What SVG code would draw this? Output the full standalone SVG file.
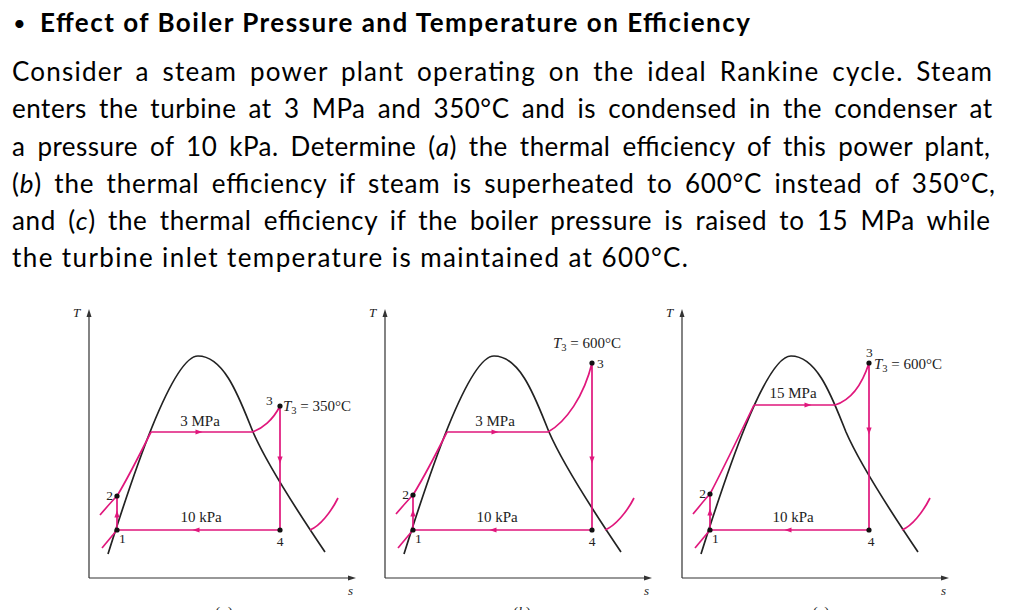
<svg xmlns="http://www.w3.org/2000/svg" xmlns:xlink="http://www.w3.org/1999/xlink" width="1024" height="610" viewBox="0 0 1024 610">
<style>
  .title{font-family:Lato,"Open Sans",sans-serif;font-weight:bold;font-size:26px;fill:#000}
  .bullet{font-family:Lato,"Open Sans",sans-serif;font-size:22px;fill:#000}
  .para{font-family:Lato,"Open Sans",sans-serif;font-size:26px;fill:#000;word-spacing:5px}
  .lbl{font-family:"Liberation Serif",serif;font-size:15px;fill:#222}
  .num{font-family:"Liberation Serif",serif;font-size:13.5px;fill:#222}
  .ax{font-family:"Liberation Serif",serif;font-size:13px;font-style:italic;fill:#222}
  .axis{stroke:#333;stroke-width:1.2;fill:none}
  .dome{stroke:#222;stroke-width:1.7;fill:none}
  .cyc{stroke:#e0177c;stroke-width:1.7;fill:none}
  .arr{fill:#e0177c}
  .dot{fill:#111}
  .axh{fill:#333}
</style>
<defs>
  <path id="dome" d="M108,554 C132,478 172,356 198,356 C225,356 240,400 253,432 C266,462 300,515 325,552"/>
  <path id="ar" d="M3.5,0 L-3.5,-2.6 L-3.5,2.6 Z"/>
  <g id="axes">
    <path class="axis" d="M89,578 V314 M89,578 H351"/>
    <path class="axh" d="M89,309 L86.5,317 L91.5,317 Z"/>
    <path class="axh" d="M356,578 L348,575.5 L348,580.5 Z"/>
    <text class="ax" x="73" y="317">T</text>
    <text class="ax" x="348" y="595">s</text>
  </g>
</defs>

<g id="heading">
  <text class="bullet" x="13" y="31">•</text>
  <text class="title" x="40" y="32" textLength="710" lengthAdjust="spacing">Effect of Boiler Pressure and Temperature on Efficiency</text>
</g>

<g id="problem">
  <text class="para" x="12" y="81" textLength="980" lengthAdjust="spacing">Consider a steam power plant operating on the ideal Rankine cycle. Steam</text>
  <text class="para" x="12" y="118.3" textLength="980" lengthAdjust="spacing">enters the turbine at 3 MPa and 350°C and is condensed in the condenser at</text>
  <text class="para" x="12" y="155.6" textLength="978" lengthAdjust="spacing">a pressure of 10 kPa. Determine (<tspan font-style="italic">a</tspan>) the thermal efficiency of this power plant,</text>
  <text class="para" x="12" y="193" textLength="983" lengthAdjust="spacing">(<tspan font-style="italic">b</tspan>) the thermal efficiency if steam is superheated to 600°C instead of 350°C,</text>
  <text class="para" x="12" y="230" textLength="978" lengthAdjust="spacing">and (<tspan font-style="italic">c</tspan>) the thermal efficiency if the boiler pressure is raised to 15 MPa while</text>
  <text class="para" x="12" y="267" textLength="676" lengthAdjust="spacing" style="word-spacing:0">the turbine inlet temperature is maintained at 600°C.</text>
</g>

<!-- Panel (a) -->
<g id="panel-a">
  <use xlink:href="#axes"/>
  <use xlink:href="#dome" class="dome"/>
  <g id="cycle-a">
    <path class="cyc" d="M100,515 C106,508 112,501 117,496 C128,478 141,452 151,432"/>
    <path class="cyc" d="M102,548 C107,542 112,536 117,530"/>
    <path class="cyc" d="M151,432 H252 C262,429 273,420 280,406 V530 H117 V496"/>
    <path class="cyc" d="M310,530 C320,526 331,512 338,498"/>
    <use xlink:href="#ar" class="arr" transform="translate(199,432)"/>
    <use xlink:href="#ar" class="arr" transform="translate(280,460) rotate(90)"/>
    <use xlink:href="#ar" class="arr" transform="translate(196,530) rotate(180)"/>
    <use xlink:href="#ar" class="arr" transform="translate(117,514) rotate(-90)"/>
  </g>
  <circle class="dot" cx="117" cy="530" r="2.6"/>
  <circle class="dot" cx="117" cy="496" r="2.6"/>
  <circle class="dot" cx="280" cy="406" r="2.6"/>
  <circle class="dot" cx="280" cy="530" r="2.6"/>
  <text class="lbl" x="200" y="426" text-anchor="middle">3 MPa</text>
  <text class="lbl" x="201" y="522" text-anchor="middle">10 kPa</text>
  <text class="num" x="119" y="543">1</text>
  <text class="num" x="113" y="500" text-anchor="end">2</text>
  <text class="num" x="266" y="405">3</text>
  <text class="num" x="280" y="546" text-anchor="middle">4</text>
  <text class="lbl" x="283" y="411"><tspan font-style="italic">T</tspan><tspan font-size="10.5" dy="3">3</tspan><tspan dy="-3"> = 350°C</tspan></text>
  <text class="lbl" x="224" y="617" text-anchor="middle">(<tspan font-style="italic">a</tspan>)</text>
</g>

<!-- Panel (b) -->
<g id="panel-b" transform="translate(296,0)">
  <use xlink:href="#axes"/>
  <use xlink:href="#dome" class="dome"/>
  <g id="cycle-b">
    <path class="cyc" d="M100,514 C106,507 112,500 117,495 C128,477 141,452 151,432"/>
    <path class="cyc" d="M102,548 C107,542 112,536 117,530"/>
    <path class="cyc" d="M151,432 H252 C270,422 288,396 296,363 V530 H117 V495"/>
    <path class="cyc" d="M309,530 C319,526 331,512 338,498"/>
    <use xlink:href="#ar" class="arr" transform="translate(199,432)"/>
    <use xlink:href="#ar" class="arr" transform="translate(296,460) rotate(90)"/>
    <use xlink:href="#ar" class="arr" transform="translate(197,530) rotate(180)"/>
    <use xlink:href="#ar" class="arr" transform="translate(117,513) rotate(-90)"/>
  </g>
  <circle class="dot" cx="117" cy="530" r="2.6"/>
  <circle class="dot" cx="117" cy="495" r="2.6"/>
  <circle class="dot" cx="296" cy="363" r="2.6"/>
  <circle class="dot" cx="296" cy="530" r="2.6"/>
  <text class="lbl" x="199" y="426" text-anchor="middle">3 MPa</text>
  <text class="lbl" x="201" y="522" text-anchor="middle">10 kPa</text>
  <text class="num" x="119" y="543">1</text>
  <text class="num" x="113" y="499" text-anchor="end">2</text>
  <text class="num" x="301" y="368">3</text>
  <text class="num" x="296" y="546" text-anchor="middle">4</text>
  <text class="lbl" x="257" y="348"><tspan font-style="italic">T</tspan><tspan font-size="10.5" dy="3">3</tspan><tspan dy="-3"> = 600°C</tspan></text>
  <text class="lbl" x="226" y="617" text-anchor="middle">(<tspan font-style="italic">b</tspan>)</text>
</g>

<!-- Panel (c) -->
<g id="panel-c" transform="translate(593,0)">
  <use xlink:href="#axes"/>
  <use xlink:href="#dome" class="dome"/>
  <g id="cycle-c">
    <path class="cyc" d="M100,514 C106,507 112,499 117,494 C131,467 148,432 161,405"/>
    <path class="cyc" d="M102,548 C107,542 112,536 117,530"/>
    <path class="cyc" d="M161,405 H242 C255,401 268,388 276,363 V530 H117 V494"/>
    <path class="cyc" d="M309,530 C319,526 330,512 337,498"/>
    <use xlink:href="#ar" class="arr" transform="translate(215,405)"/>
    <use xlink:href="#ar" class="arr" transform="translate(276,431) rotate(90)"/>
    <use xlink:href="#ar" class="arr" transform="translate(195,530) rotate(180)"/>
    <use xlink:href="#ar" class="arr" transform="translate(117,512) rotate(-90)"/>
  </g>
  <circle class="dot" cx="117" cy="530" r="2.6"/>
  <circle class="dot" cx="117" cy="494" r="2.6"/>
  <circle class="dot" cx="276" cy="363" r="2.6"/>
  <circle class="dot" cx="276" cy="530" r="2.6"/>
  <text class="lbl" x="200" y="398" text-anchor="middle">15 MPa</text>
  <text class="lbl" x="200" y="522" text-anchor="middle">10 kPa</text>
  <text class="num" x="119" y="543">1</text>
  <text class="num" x="113" y="498" text-anchor="end">2</text>
  <text class="num" x="273" y="357">3</text>
  <text class="num" x="278" y="546" text-anchor="middle">4</text>
  <text class="lbl" x="281" y="369"><tspan font-style="italic">T</tspan><tspan font-size="10.5" dy="3">3</tspan><tspan dy="-3"> = 600°C</tspan></text>
  <text class="lbl" x="228" y="617" text-anchor="middle">(<tspan font-style="italic">c</tspan>)</text>
</g>
</svg>
